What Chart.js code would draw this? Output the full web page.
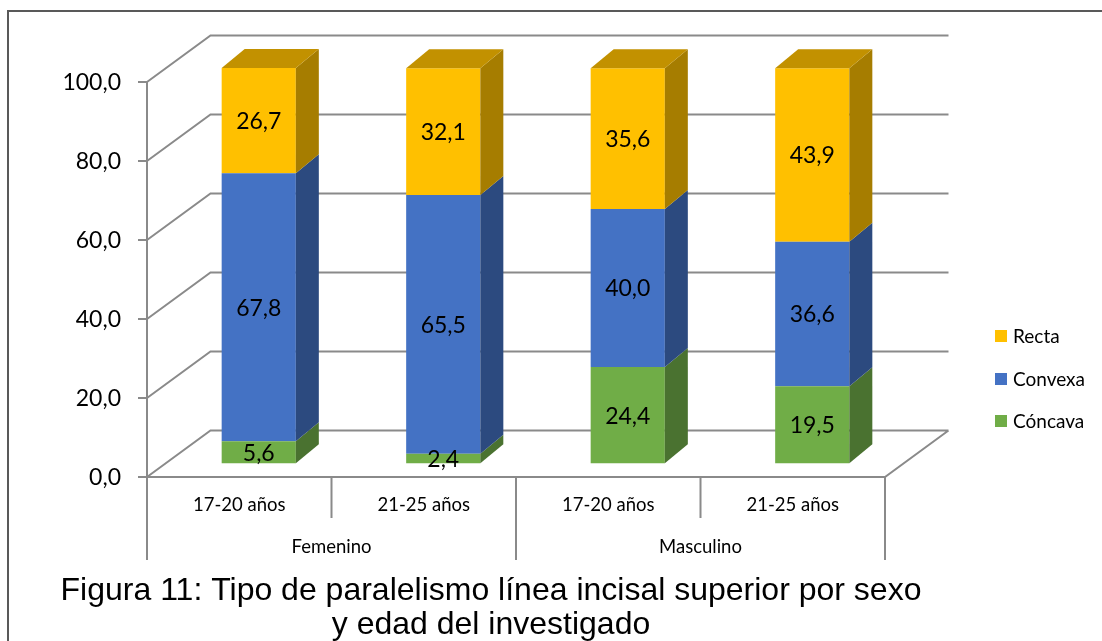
<!DOCTYPE html>
<html>
<head>
<meta charset="utf-8">
<script src="https://cdn.jsdelivr.net/npm/chart.js@4.4.1/dist/chart.umd.min.js"></script>
<style>
  html, body { margin: 0; padding: 0; background: #ffffff; }
  #c { display: block; }
</style>
</head>
<body>
<canvas id="c" width="1102" height="641"></canvas>
<script>
// ---- data ----
const categories = ['17-20 años', '21-25 años', '17-20 años', '21-25 años'];
const groups = ['Femenino', 'Masculino'];
const groupSize = 2;
const concava = [5.6, 2.4, 24.4, 19.5];
const convexa = [67.8, 65.5, 40.0, 36.6];
const recta = [26.7, 32.1, 35.6, 43.9];
const yTickValues = [0, 20, 40, 60, 80, 100];
const titleLines = [
  'Figura 11: Tipo de paralelismo línea incisal superior por sexo',
  'y edad del investigado'
];

// ---- 3D geometry ----
const WALL = { dx: 63.5, dy: -46.5 };      // depth of floor / side wall
const BAR_SHIFT = { dx: 19.5, dy: -13.7 }; // bars sit inside the box
const BAR_DEPTH = { dx: 23, dy: -19 };     // thickness of each bar

const fmt = v => v.toFixed(1).replace('.', ',');
const LABEL_FONT = 'Lato, "DejaVu Sans", sans-serif';

const scene3d = {
  id: 'scene3d',
  beforeDraw(chart) {
    const { ctx, chartArea: a, scales: { x, y } } = chart;
    ctx.save();
    // outer frame
    ctx.strokeStyle = '#595959';
    ctx.lineWidth = 2;
    ctx.beginPath();
    ctx.moveTo(8, 660); ctx.lineTo(8, 11); ctx.lineTo(1110, 11);
    ctx.stroke();

    // walls, floor and axis
    ctx.strokeStyle = '#8a8a8a';
    ctx.lineWidth = 2;
    ctx.lineJoin = 'miter';
    ctx.beginPath();
    const y0 = y.getPixelForValue(0);
    yTickValues.forEach(v => {
      const py = y.getPixelForValue(v);
      ctx.moveTo(a.left, py);
      ctx.lineTo(a.left + WALL.dx, py + WALL.dy);
      ctx.lineTo(a.right + WALL.dx, py + WALL.dy);
      ctx.moveTo(a.left - 9, py);
      ctx.lineTo(a.left, py);
    });
    ctx.moveTo(a.left, y0);
    ctx.lineTo(a.right, y0);
    ctx.lineTo(a.right + WALL.dx, y0 + WALL.dy);
    ctx.moveTo(a.left, y.getPixelForValue(100));
    ctx.lineTo(a.left, y0);

    // category dividers under the floor
    const half = (x.getPixelForValue(1) - x.getPixelForValue(0)) / 2;
    for (let k = 0; k <= categories.length; k++) {
      const bx = x.getPixelForValue(0) - half + k * 2 * half;
      const long = k % groupSize === 0;
      ctx.moveTo(bx, y0);
      ctx.lineTo(bx, long ? 560 : 518);
    }
    ctx.stroke();
    ctx.restore();
  },
  beforeDatasetsDraw(chart) {
    chart.ctx.save();
    chart.ctx.translate(BAR_SHIFT.dx, BAR_SHIFT.dy);
  },
  afterDatasetsDraw(chart) {
    const { ctx } = chart;
    const nSets = chart.data.datasets.length;
    // side and top faces
    chart.data.datasets.forEach((ds, di) => {
      const meta = chart.getDatasetMeta(di);
      meta.data.forEach(bar => {
        const right = bar.x + bar.width / 2;
        const left = bar.x - bar.width / 2;
        ctx.fillStyle = ds.sideColor;
        ctx.beginPath();
        ctx.moveTo(right, bar.base);
        ctx.lineTo(right, bar.y);
        ctx.lineTo(right + BAR_DEPTH.dx, bar.y + BAR_DEPTH.dy);
        ctx.lineTo(right + BAR_DEPTH.dx, bar.base + BAR_DEPTH.dy);
        ctx.closePath();
        ctx.fill();
        if (di === nSets - 1) {
          ctx.fillStyle = ds.topColor;
          ctx.beginPath();
          ctx.moveTo(left, bar.y);
          ctx.lineTo(right, bar.y);
          ctx.lineTo(right + BAR_DEPTH.dx, bar.y + BAR_DEPTH.dy);
          ctx.lineTo(left + BAR_DEPTH.dx, bar.y + BAR_DEPTH.dy);
          ctx.closePath();
          ctx.fill();
        }
      });
    });
    // value labels
    ctx.fillStyle = '#000000';
    ctx.font = '23px ' + LABEL_FONT;
    ctx.textAlign = 'center';
    ctx.textBaseline = 'middle';
    chart.data.datasets.forEach((ds, di) => {
      chart.getDatasetMeta(di).data.forEach((bar, i) => {
        ctx.fillText(fmt(ds.data[i]), bar.x, (bar.y + bar.base) / 2 + 1);
      });
    });
    ctx.restore();
  },
  afterDraw(chart) {
    const { ctx, chartArea: a, scales: { x, y } } = chart;
    ctx.save();
    ctx.fillStyle = '#000000';
    // y tick labels
    ctx.font = '23px ' + LABEL_FONT;
    ctx.textAlign = 'right';
    ctx.textBaseline = 'middle';
    yTickValues.forEach(v => ctx.fillText(fmt(v), a.left - 26, y.getPixelForValue(v) + 1));
    // category labels
    ctx.font = '18.5px ' + LABEL_FONT;
    ctx.textAlign = 'center';
    categories.forEach((c, i) => ctx.fillText(c, x.getPixelForValue(i), 505));
    groups.forEach((g, gi) => {
      const first = x.getPixelForValue(gi * groupSize);
      const last = x.getPixelForValue(gi * groupSize + groupSize - 1);
      ctx.fillText(g, (first + last) / 2, 547);
    });
    // legend
    ctx.font = '19px ' + LABEL_FONT;
    ctx.textAlign = 'left';
    const legendY = [336, 379, 421];
    chart.data.datasets.slice().reverse().forEach((ds, i) => {
      ctx.fillStyle = ds.backgroundColor;
      ctx.fillRect(995, legendY[i] - 6, 12, 12);
      ctx.fillStyle = '#000000';
      ctx.fillText(ds.label, 1013, legendY[i] + 1);
    });
    // caption
    ctx.font = '32px "Liberation Sans", Arial, sans-serif';
    ctx.textAlign = 'center';
    ctx.textBaseline = 'alphabetic';
    ctx.fillText(titleLines[0], 491, 600);
    ctx.fillText(titleLines[1], 491, 634);
    ctx.restore();
  }
};

new Chart(document.getElementById('c'), {
  type: 'bar',
  data: {
    labels: categories,
    datasets: [
      { label: 'Cóncava', data: concava, backgroundColor: '#70AD47', sideColor: '#4A7230', topColor: '#5C8F3A' },
      { label: 'Convexa', data: convexa, backgroundColor: '#4472C4', sideColor: '#2C4A7F', topColor: '#375DA0' },
      { label: 'Recta', data: recta, backgroundColor: '#FFC000', sideColor: '#A67D00', topColor: '#C29100' }
    ]
  },
  options: {
    responsive: false,
    devicePixelRatio: 1,
    animation: false,
    events: [],
    layout: { padding: { left: 147, top: 82, right: 217, bottom: 164 } },
    datasets: { bar: { categoryPercentage: 1, barPercentage: 0.402, clip: false, borderWidth: 0 } },
    scales: {
      x: { display: false, stacked: true },
      y: { display: false, stacked: true, min: 0, max: 100 }
    },
    plugins: {
      legend: { display: false },
      title: { display: false },
      tooltip: { enabled: false }
    }
  },
  plugins: [scene3d]
});
</script>
</body>
</html>
